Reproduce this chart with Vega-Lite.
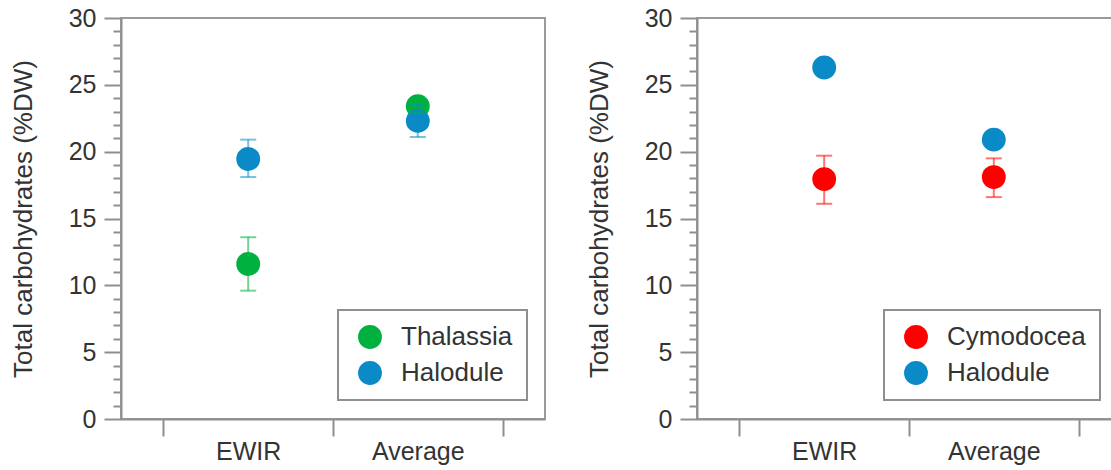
{
  "$schema": "https://vega.github.io/schema/vega-lite/v6.json",
  "background": "white",
  "padding": {"left": 9, "top": 5, "right": 0, "bottom": 5},
  "spacing": 39,
  "datasets": {
    "left": [
      {"site": "EWIR", "species": "Thalassia", "mean": 11.6, "lo": 9.6, "hi": 13.6},
      {"site": "Average", "species": "Thalassia", "mean": 23.4, "lo": 22.9, "hi": 23.9},
      {"site": "EWIR", "species": "Halodule", "mean": 19.45, "lo": 18.1, "hi": 20.9},
      {"site": "Average", "species": "Halodule", "mean": 22.3, "lo": 21.1, "hi": 23.5}
    ],
    "right": [
      {"site": "EWIR", "species": "Cymodocea", "mean": 17.95, "lo": 16.1, "hi": 19.7},
      {"site": "Average", "species": "Cymodocea", "mean": 18.1, "lo": 16.6, "hi": 19.5},
      {"site": "EWIR", "species": "Halodule", "mean": 26.3, "lo": 26.0, "hi": 26.6},
      {"site": "Average", "species": "Halodule", "mean": 20.9, "lo": 20.5, "hi": 21.3}
    ]
  },
  "hconcat": [
    {
      "width": 424,
      "height": 401,
      "data": {"name": "left"},
      "encoding": {
        "x": {"field": "site", "type": "nominal", "sort": ["EWIR", "Average"],
              "scale": {"type": "band", "paddingInner": 0, "paddingOuter": 0.25},
              "axis": {"title": null, "tickBand": "extent", "tickSize": 17, "labelPadding": 3, "labelAngle": 0}},
        "color": {"field": "species", "type": "nominal",
                  "scale": {"domain": ["Thalassia", "Halodule"], "range": ["#00b140", "#0a8ac6"]},
                  "legend": {"title": null, "orient": "none", "legendX": 217, "legendY": 292}}
      },
      "layer": [
        {
          "mark": {"type": "point", "filled": true, "size": 570, "opacity": 1, "shape": "circle"},
          "encoding": {
            "y": {"field": "mean", "type": "quantitative", "scale": {"domain": [0, 30], "nice": false},
                  "axis": {"title": "Total carbohydrates (%DW)", "titlePadding": 32,
                           "values": [0,1,2,3,4,5,6,7,8,9,10,11,12,13,14,15,16,17,18,19,20,21,22,23,24,25,26,27,28,29,30],
                           "tickSize": {"condition": {"test": "datum.value % 5 === 0", "value": 17}, "value": 8},
                           "labelExpr": "datum.value % 5 === 0 ? datum.label : ''", "labelPadding": 8, "labelOverlap": false}}
          }
        },
        {
          "mark": {"type": "rule", "strokeWidth": 2, "opacity": 0.55},
          "encoding": {
            "y": {"field": "lo", "type": "quantitative", "scale": {"domain": [0, 30], "nice": false},
                  "axis": {"title": "Total carbohydrates (%DW)", "titlePadding": 32,
                           "values": [0,1,2,3,4,5,6,7,8,9,10,11,12,13,14,15,16,17,18,19,20,21,22,23,24,25,26,27,28,29,30],
                           "tickSize": {"condition": {"test": "datum.value % 5 === 0", "value": 17}, "value": 8},
                           "labelExpr": "datum.value % 5 === 0 ? datum.label : ''", "labelPadding": 8, "labelOverlap": false}},
            "y2": {"field": "hi"}
          }
        },
        {
          "mark": {"type": "tick", "size": 16, "thickness": 2, "opacity": 0.55},
          "encoding": {
            "y": {"field": "lo", "type": "quantitative", "scale": {"domain": [0, 30], "nice": false},
                  "axis": {"title": "Total carbohydrates (%DW)", "titlePadding": 32,
                           "values": [0,1,2,3,4,5,6,7,8,9,10,11,12,13,14,15,16,17,18,19,20,21,22,23,24,25,26,27,28,29,30],
                           "tickSize": {"condition": {"test": "datum.value % 5 === 0", "value": 17}, "value": 8},
                           "labelExpr": "datum.value % 5 === 0 ? datum.label : ''", "labelPadding": 8, "labelOverlap": false}}
          }
        },
        {
          "mark": {"type": "tick", "size": 16, "thickness": 2, "opacity": 0.55},
          "encoding": {
            "y": {"field": "hi", "type": "quantitative", "scale": {"domain": [0, 30], "nice": false},
                  "axis": {"title": "Total carbohydrates (%DW)", "titlePadding": 32,
                           "values": [0,1,2,3,4,5,6,7,8,9,10,11,12,13,14,15,16,17,18,19,20,21,22,23,24,25,26,27,28,29,30],
                           "tickSize": {"condition": {"test": "datum.value % 5 === 0", "value": 17}, "value": 8},
                           "labelExpr": "datum.value % 5 === 0 ? datum.label : ''", "labelPadding": 8, "labelOverlap": false}}
          }
        }
      ]
    },
    {
      "width": 424,
      "height": 401,
      "data": {"name": "right"},
      "encoding": {
        "x": {"field": "site", "type": "nominal", "sort": ["EWIR", "Average"],
              "scale": {"type": "band", "paddingInner": 0, "paddingOuter": 0.25},
              "axis": {"title": null, "tickBand": "extent", "tickSize": 17, "labelPadding": 3, "labelAngle": 0}},
        "color": {"field": "species", "type": "nominal",
                  "scale": {"domain": ["Cymodocea", "Halodule"], "range": ["#ff0000", "#0a8ac6"]},
                  "legend": {"title": null, "orient": "none", "legendX": 187, "legendY": 292}}
      },
      "layer": [
        {
          "mark": {"type": "point", "filled": true, "size": 570, "opacity": 1, "shape": "circle"},
          "encoding": {
            "y": {"field": "mean", "type": "quantitative", "scale": {"domain": [0, 30], "nice": false},
                  "axis": {"title": "Total carbohydrates (%DW)", "titlePadding": 32,
                           "values": [0,1,2,3,4,5,6,7,8,9,10,11,12,13,14,15,16,17,18,19,20,21,22,23,24,25,26,27,28,29,30],
                           "tickSize": {"condition": {"test": "datum.value % 5 === 0", "value": 17}, "value": 8},
                           "labelExpr": "datum.value % 5 === 0 ? datum.label : ''", "labelPadding": 8, "labelOverlap": false}}
          }
        },
        {
          "mark": {"type": "rule", "strokeWidth": 2, "opacity": 0.55},
          "encoding": {
            "y": {"field": "lo", "type": "quantitative", "scale": {"domain": [0, 30], "nice": false},
                  "axis": {"title": "Total carbohydrates (%DW)", "titlePadding": 32,
                           "values": [0,1,2,3,4,5,6,7,8,9,10,11,12,13,14,15,16,17,18,19,20,21,22,23,24,25,26,27,28,29,30],
                           "tickSize": {"condition": {"test": "datum.value % 5 === 0", "value": 17}, "value": 8},
                           "labelExpr": "datum.value % 5 === 0 ? datum.label : ''", "labelPadding": 8, "labelOverlap": false}},
            "y2": {"field": "hi"}
          }
        },
        {
          "mark": {"type": "tick", "size": 16, "thickness": 2, "opacity": 0.55},
          "encoding": {
            "y": {"field": "lo", "type": "quantitative", "scale": {"domain": [0, 30], "nice": false},
                  "axis": {"title": "Total carbohydrates (%DW)", "titlePadding": 32,
                           "values": [0,1,2,3,4,5,6,7,8,9,10,11,12,13,14,15,16,17,18,19,20,21,22,23,24,25,26,27,28,29,30],
                           "tickSize": {"condition": {"test": "datum.value % 5 === 0", "value": 17}, "value": 8},
                           "labelExpr": "datum.value % 5 === 0 ? datum.label : ''", "labelPadding": 8, "labelOverlap": false}}
          }
        },
        {
          "mark": {"type": "tick", "size": 16, "thickness": 2, "opacity": 0.55},
          "encoding": {
            "y": {"field": "hi", "type": "quantitative", "scale": {"domain": [0, 30], "nice": false},
                  "axis": {"title": "Total carbohydrates (%DW)", "titlePadding": 32,
                           "values": [0,1,2,3,4,5,6,7,8,9,10,11,12,13,14,15,16,17,18,19,20,21,22,23,24,25,26,27,28,29,30],
                           "tickSize": {"condition": {"test": "datum.value % 5 === 0", "value": 17}, "value": 8},
                           "labelExpr": "datum.value % 5 === 0 ? datum.label : ''", "labelPadding": 8, "labelOverlap": false}}
          }
        }
      ]
    }
  ],
  "resolve": {"scale": {"color": "independent"}},
  "config": {
    "font": "Liberation Sans",
    "view": {"stroke": "#9a9a9a", "strokeWidth": 2},
    "axis": {"domainColor": "#8f8f8f", "domainWidth": 2, "tickColor": "#8f8f8f", "tickWidth": 2,
             "labelColor": "#333333", "titleColor": "#333333", "labelFontSize": 25, "titleFontSize": 26,
             "titleFontWeight": "normal", "grid": false, "labelFont": "Liberation Sans", "titleFont": "Liberation Sans"},
    "legend": {"padding": 14, "strokeColor": "#8f8f8f", "strokeWidth": 2, "fillColor": "white",
               "symbolSize": 570, "symbolType": "circle", "symbolStrokeWidth": 0, "labelFontSize": 26,
               "labelColor": "#333333", "labelOffset": 18, "rowPadding": 10, "symbolOffset": 5, "cornerRadius": 0,
               "labelFont": "Liberation Sans"}
  }
}
